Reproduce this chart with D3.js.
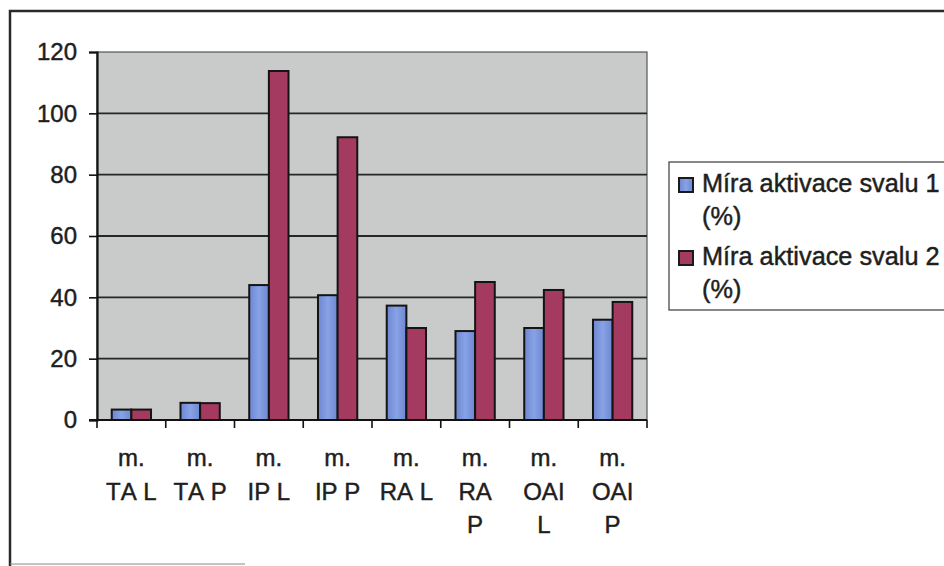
<!DOCTYPE html>
<html>
<head>
<meta charset="utf-8">
<script src="https://cdn.jsdelivr.net/npm/d3@7"></script>
<style>
  html, body { margin: 0; padding: 0; background: #ffffff; }
  svg { display: block; }
  text {
    font-family: "Liberation Sans", Arial, sans-serif;
    fill: #1e1e1e;
    font-kerning: none;
    stroke: #1e1e1e;
    stroke-width: 0.45px;
  }
</style>
</head>
<body>
<svg id="chart" width="944" height="566"></svg>
<script>
// Muscle activation per muscle / side, two measurements
const categories = ["m. TA L", "m. TA P", "m. IP L", "m. IP P", "m. RA L", "m. RA P", "m. OAI L", "m. OAI P"];
const seriesNames = ["Míra aktivace svalu 1 (%)", "Míra aktivace svalu 2 (%)"];
const activation1 = [3.4, 5.6, 44, 40.7, 37.3, 29, 30, 32.7];
const activation2 = [3.4, 5.5, 113.8, 92.2, 30, 45, 42.4, 38.5];
const yTicks = [0, 20, 40, 60, 80, 100, 120];
const seriesColors = ["#7a93da", "#a53a60"];

const svg = d3.select("#chart");
const plot = { left: 97, right: 647, top: 52, bottom: 420 };

const x = d3.scaleBand().domain(categories).range([plot.left, plot.right]).paddingInner(0).paddingOuter(0);
const y = d3.scaleLinear().domain([0, 120]).range([plot.bottom, plot.top]);
const groupW = x.bandwidth() / 3.5 * 2;
const x1 = d3.scaleBand().domain([0, 1])
  .range([(x.bandwidth() - groupW) / 2, (x.bandwidth() + groupW) / 2]);

// gradient for the blue series
const defs = svg.append("defs");
const g1 = defs.append("linearGradient").attr("id", "blueFill").attr("x1", "0").attr("x2", "1");
g1.append("stop").attr("offset", "0").attr("stop-color", "#6d86d0");
g1.append("stop").attr("offset", "0.5").attr("stop-color", "#88a2e6");
g1.append("stop").attr("offset", "1").attr("stop-color", "#6d86d0");

// outer chart frame
svg.append("path")
  .attr("d", "M10,566 L10,11 L944,11")
  .attr("fill", "none").attr("stroke", "#2a2a2a").attr("stroke-width", 2.5);
svg.append("line")
  .attr("x1", 10).attr("x2", 245).attr("y1", 564).attr("y2", 564)
  .attr("stroke", "#8a8a8a").attr("stroke-width", 1);

// plot area
svg.append("rect")
  .attr("x", plot.left).attr("y", plot.top)
  .attr("width", plot.right - plot.left).attr("height", plot.bottom - plot.top)
  .attr("fill", "#c9cbca").attr("stroke", "#555").attr("stroke-width", 1.2);

// gridlines
svg.append("g").selectAll("line")
  .data(yTicks.filter(v => v > 0 && v < 120))
  .join("line")
  .attr("x1", plot.left).attr("x2", plot.right)
  .attr("y1", d => y(d)).attr("y2", d => y(d))
  .attr("stroke", "#262626").attr("stroke-width", 1.8);

// y axis
const yAxis = svg.append("g")
  .attr("transform", `translate(${plot.left},0)`)
  .call(d3.axisLeft(y).tickValues(yTicks).tickSize(8).tickPadding(12));
yAxis.select(".domain").attr("stroke", "#111").attr("stroke-width", 2.2);
yAxis.selectAll(".tick line").attr("stroke", "#111").attr("stroke-width", 1.6);
yAxis.selectAll(".tick text")
  .attr("font-size", 24).attr("fill", "#1e1e1e")
  .style("font-family", "'Liberation Sans', Arial, sans-serif");

// bars
const rows = categories.map((c, i) => ({ c, vals: [activation1[i], activation2[i]] }));
const groups = svg.append("g").selectAll("g")
  .data(rows).join("g")
  .attr("transform", d => `translate(${x(d.c)},0)`);
groups.selectAll("rect")
  .data(d => d.vals.map((v, k) => ({ v, k })))
  .join("rect")
  .attr("x", d => x1(d.k))
  .attr("width", x1.bandwidth())
  .attr("y", d => y(d.v))
  .attr("height", d => y(0) - y(d.v))
  .attr("fill", d => d.k === 0 ? "url(#blueFill)" : seriesColors[1])
  .attr("stroke", "#141414").attr("stroke-width", 2);

// x axis line and category ticks
const boundaries = categories.map(c => x(c)).concat([x.range()[1]]);
svg.append("line")
  .attr("x1", plot.left - 8).attr("x2", plot.right)
  .attr("y1", plot.bottom).attr("y2", plot.bottom)
  .attr("stroke", "#111").attr("stroke-width", 2.2);
svg.append("g").selectAll("line")
  .data(boundaries).join("line")
  .attr("x1", d => d).attr("x2", d => d)
  .attr("y1", plot.bottom).attr("y2", plot.bottom + 8)
  .attr("stroke", "#111").attr("stroke-width", 1.6);

// wrapped category labels
const labels = svg.append("g").selectAll("text")
  .data(categories).join("text")
  .attr("text-anchor", "middle")
  .attr("font-size", 24)
  .attr("x", d => x(d) + x.bandwidth() / 2)
  .attr("y", 466);
labels.each(function (d) {
  const t = d3.select(this);
  const cx = x(d) + x.bandwidth() / 2;
  const words = d.split(" ");
  const lines = [];
  let cur = [];
  const probe = t.append("tspan");
  words.forEach(w => {
    const trial = cur.concat([w]).join(" ");
    probe.text(trial);
    if (cur.length && probe.node().getComputedTextLength() > 55) {
      lines.push(cur.join(" "));
      cur = [w];
    } else {
      cur.push(w);
    }
  });
  lines.push(cur.join(" "));
  probe.remove();
  lines.forEach((ln, i) => {
    t.append("tspan").attr("x", cx).attr("y", 466 + i * 33.5).text(ln);
  });
});

// legend
const legend = svg.append("g");
legend.append("rect")
  .attr("x", 669).attr("y", 162).attr("width", 300).attr("height", 148)
  .attr("fill", "#ffffff").attr("stroke", "#3a3a3a").attr("stroke-width", 1.2);
const legendFills = ["url(#blueFill)", seriesColors[1]];
seriesNames.forEach((name, i) => {
  const top = 178 + i * 73;
  legend.append("rect")
    .attr("x", 679).attr("y", top).attr("width", 14).attr("height", 14)
    .attr("fill", legendFills[i]).attr("stroke", "#1a1a1a").attr("stroke-width", 2);
  const idx = name.lastIndexOf(" ");
  const txt = legend.append("text").attr("font-size", 25.3);
  txt.append("tspan").attr("x", 702).attr("y", top + 14).text(name.slice(0, idx));
  txt.append("tspan").attr("x", 702).attr("y", top + 47).text(name.slice(idx + 1));
});
</script>
</body>
</html>
